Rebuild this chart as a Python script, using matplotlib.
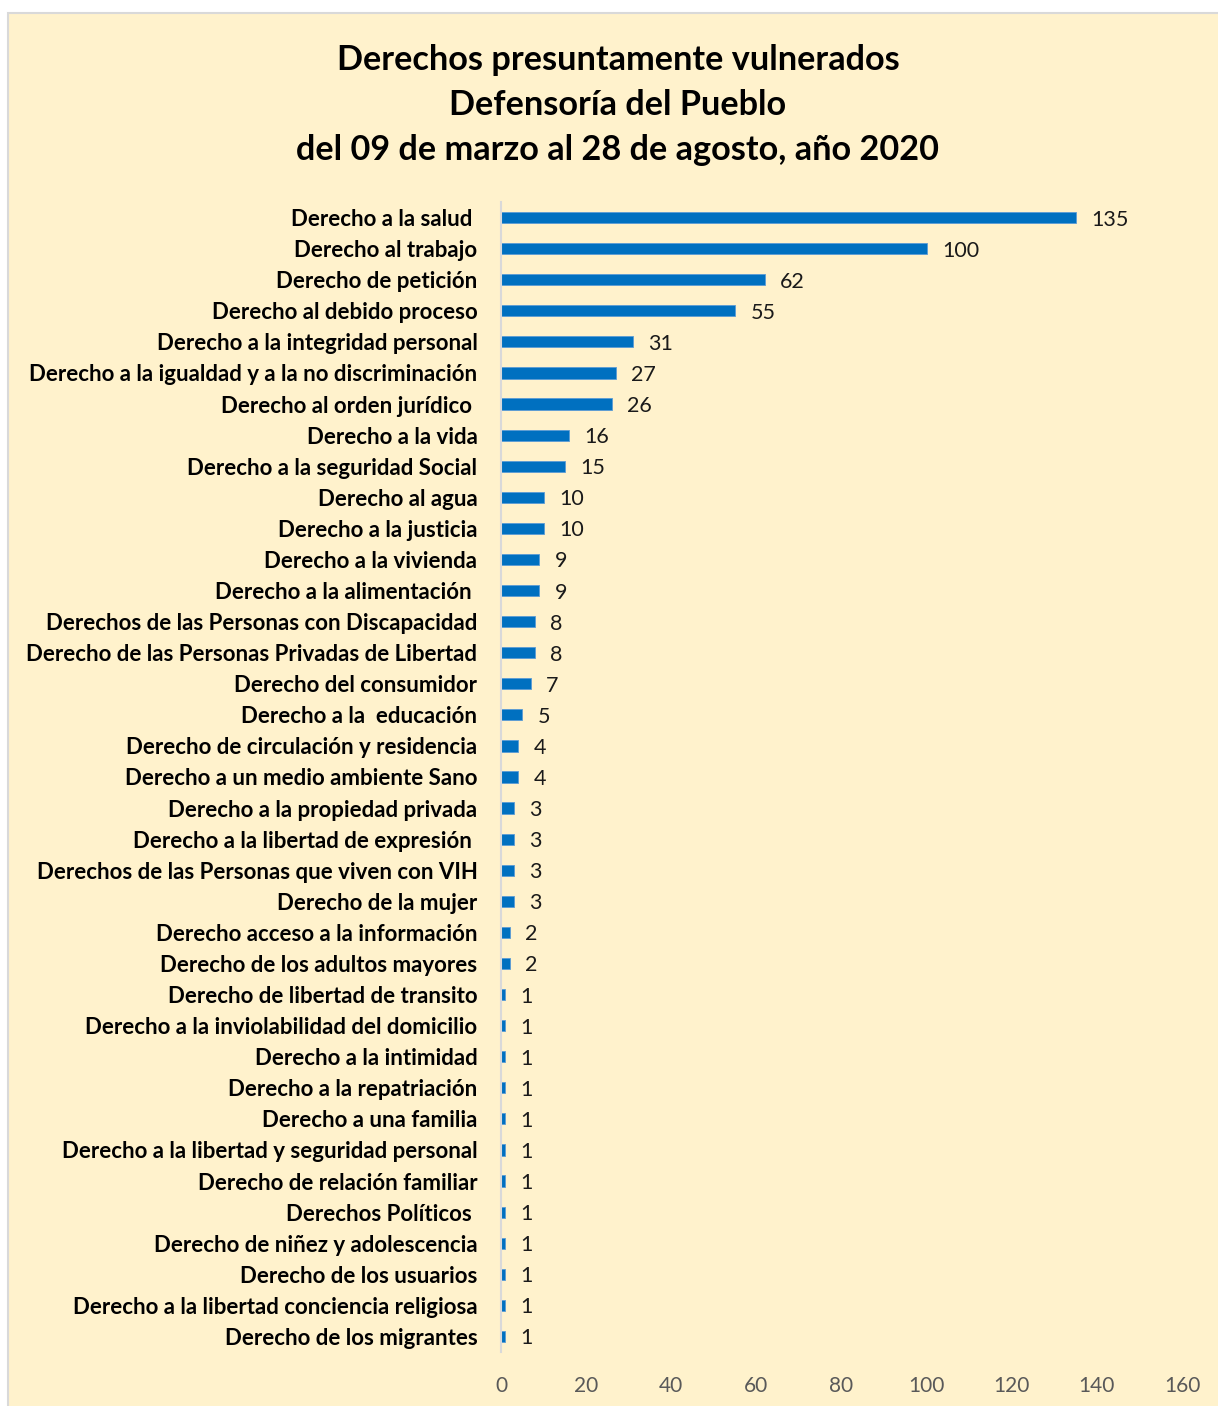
"""Derechos presuntamente vulnerados - barras horizontales"""

import matplotlib
matplotlib.use('Agg')
import matplotlib.pyplot as plt
from matplotlib.patches import Rectangle

derechos = [
    'Derecho a la salud ', 'Derecho al trabajo', 'Derecho de petición',
    'Derecho al debido proceso', 'Derecho a la integridad personal',
    'Derecho a la igualdad y a la no discriminación', 'Derecho al orden jurídico ',
    'Derecho a la vida', 'Derecho a la seguridad Social', 'Derecho al agua',
    'Derecho a la justicia', 'Derecho a la vivienda', 'Derecho a la alimentación ',
    'Derechos de las Personas con Discapacidad',
    'Derecho de las Personas Privadas de Libertad', 'Derecho del consumidor',
    'Derecho a la  educación', 'Derecho de circulación y residencia',
    'Derecho a un medio ambiente Sano', 'Derecho a la propiedad privada',
    'Derecho a la libertad de expresión ', 'Derechos de las Personas que viven con VIH',
    'Derecho de la mujer', 'Derecho acceso a la información',
    'Derecho de los adultos mayores', 'Derecho de libertad de transito',
    'Derecho a la inviolabilidad del domicilio', 'Derecho a la intimidad',
    'Derecho a la repatriación', 'Derecho a una familia',
    'Derecho a la libertad y seguridad personal', 'Derecho de relación familiar',
    'Derechos Políticos ', 'Derecho de niñez y adolescencia',
    'Derecho de los usuarios', 'Derecho a la libertad conciencia religiosa',
    'Derecho de los migrantes',
]
casos = [135, 100, 62, 55, 31, 27, 26, 16, 15, 10, 10, 9, 9, 8, 8, 7, 5, 4, 4,
         3, 3, 3, 3, 2, 2, 1, 1, 1, 1, 1, 1, 1, 1, 1, 1, 1, 1]
xticks = [0, 20, 40, 60, 80, 100, 120, 140, 160]

titulo = ('Derechos presuntamente vulnerados\n'
          'Defensoría del Pueblo\n'
          'del 09 de marzo al 28 de agosto, año 2020')

BG = '#FFF2CC'
BAR = '#0070C0'

plt.rcParams['font.family'] = ['Lato', 'DejaVu Sans']

fig = plt.figure(figsize=(12.18, 14.06), dpi=100)
fig.patch.set_facecolor('white')
# marco del gráfico
fig.patches.append(Rectangle((8 / 1218, -0.01), 1.0, 1.01 - 13 / 1406,
                             transform=fig.transFigure, facecolor=BG,
                             edgecolor='#D9D9D9', linewidth=1.5, zorder=-1))

ax = fig.add_axes([501 / 1218, 1 - 1352 / 1406, 681 / 1218, 1150 / 1406])
ax.set_facecolor('none')

y = list(range(len(derechos)))
ax.barh(y, casos, height=0.36, color=BAR, edgecolor='#5B9BD5', linewidth=0.6)
for yi, v in zip(y, casos):
    ax.annotate(str(v), (v, yi), xytext=(11, 0), textcoords='offset points',
                va='center_baseline', ha='left', fontsize=15.5, color='#1a1a1a')

ax.set_ylim(len(derechos) - 0.5, -0.5)
ax.set_xlim(0, 160)
ax.set_yticks(y)
ax.set_yticklabels(derechos, fontsize=16, fontweight='bold')
ax.set_xticks(xticks)
ax.set_xticklabels([str(t) for t in xticks], fontsize=15, color='#595959')
ax.tick_params(axis='y', length=0, pad=17)
ax.tick_params(axis='x', length=0, pad=17)
for s in ['top', 'right', 'bottom']:
    ax.spines[s].set_visible(False)
ax.spines['left'].set_color('#D9D9D9')
ax.spines['left'].set_linewidth(1.5)

fig.text(618 / 1218, 1 - 105 / 1406, titulo, ha='center', va='center',
         fontsize=24.7, fontweight='bold', linespacing=1.5)

fig.savefig('out.png', dpi=100)
plt.close(fig)
